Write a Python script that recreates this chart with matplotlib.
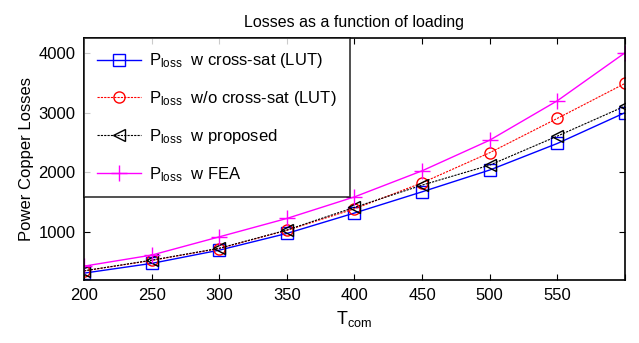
import matplotlib
matplotlib.use("Agg")
import matplotlib.pyplot as plt

plt.rcParams["font.family"] = ["Liberation Sans", "DejaVu Sans"]
plt.rcParams["mathtext.fontset"] = "custom"
plt.rcParams["mathtext.rm"] = "Liberation Sans"
plt.rcParams["mathtext.it"] = "Liberation Sans"
plt.rcParams["mathtext.default"] = "regular"

# Copper losses vs. commanded torque
t_com = [200, 250, 300, 350, 400, 450, 500, 550, 600]
loss_cross_sat = [313, 476, 698, 978, 1320, 1675, 2040, 2485, 3000]
loss_no_cross_sat = [350, 525, 725, 1030, 1390, 1826, 2330, 2905, 3490]
loss_proposed = [352, 530, 730, 1035, 1415, 1787, 2122, 2608, 3110]
loss_fea = [430, 615, 921, 1229, 1590, 2027, 2540, 3200, 4003]

x_ticks = [200, 250, 300, 350, 400, 450, 500, 550, 600]
x_tick_labels = ["200", "250", "300", "350", "400", "450", "500", "550", ""]
y_ticks = [1000, 2000, 3000, 4000]

fig = plt.figure(figsize=(6.39, 3.43), dpi=100)
ax = fig.add_axes([0.1315, 0.184, 0.8465, 0.705])

ax.plot(t_com, loss_cross_sat, color="blue", lw=1.0, marker="s", ms=8,
        mfc="none", mec="blue", label=r"$P_{loss}\ $ w cross-sat (LUT)")
ax.plot(t_com, loss_no_cross_sat, color="red", lw=0.8, ls=(0, (2, 1)),
        marker="o", ms=8, mfc="none", mec="red",
        label=r"$P_{loss}\ $ w/o cross-sat (LUT)")
ax.plot(t_com, loss_proposed, color="black", lw=0.8, ls=(0, (2, 1)),
        marker="<", ms=9, mfc="none", mec="black",
        label=r"$P_{loss}\ $ w proposed")
ax.plot(t_com, loss_fea, color="magenta", lw=1.0, marker="+", ms=12,
        mec="magenta", label=r"$P_{loss}\ $ w FEA")

ax.set_xlim(200, 600)
ax.set_ylim(200, 4250)
ax.set_xticks(x_ticks)
ax.set_xticklabels(x_tick_labels)
ax.set_yticks(y_ticks)
ax.tick_params(direction="in", top=True, right=True, labelsize=12,
               length=4, width=0.8, pad=6)
for s in ax.spines.values():
    s.set_linewidth(1.2)

ax.set_title("Losses as a function of loading", fontsize=11.5, pad=8)
ax.set_xlabel(r"$T_{com}$", fontsize=13, labelpad=4)
ax.set_ylabel("Power Copper Losses", fontsize=12, labelpad=3)

leg = ax.legend(loc="upper left", bbox_to_anchor=(0, 1), borderaxespad=0,
                fontsize=12, frameon=True, fancybox=False, edgecolor="black",
                handlelength=2.6, handletextpad=0.5, labelspacing=1.13,
                borderpad=0.8)
leg.get_frame().set_linewidth(1.2)

fig.savefig("out.png", dpi=100)
